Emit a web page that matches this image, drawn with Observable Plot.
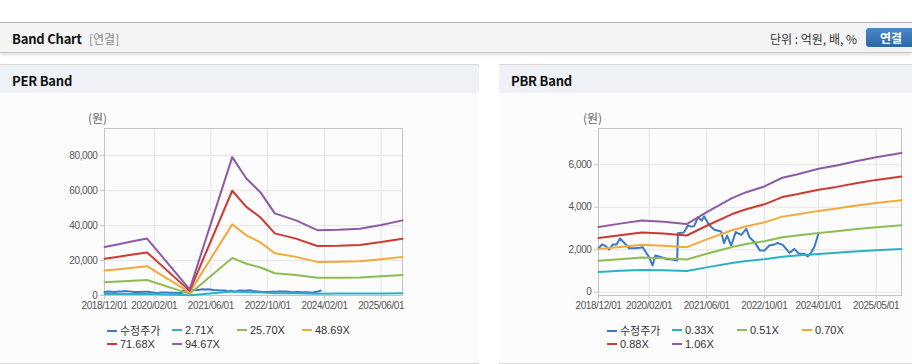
<!DOCTYPE html>
<html><head><meta charset="utf-8">
<script src="https://cdn.jsdelivr.net/npm/d3@7"></script>
<script src="https://cdn.jsdelivr.net/npm/@observablehq/plot@0.6"></script>
<style>
body{margin:0;width:912px;height:364px;overflow:hidden;background:#fff;position:relative;font-family:"Noto Sans CJK KR","Noto Sans",sans-serif;}
.abs{position:absolute;}
.topline{left:0;top:22px;width:912px;height:1px;background:#b4b4b4;}
.header{left:0;top:23px;width:912px;height:29px;background:#f4f4f4;border-bottom:1px solid #c6c6c6;box-shadow:0 2px 3px rgba(0,0,0,0.12);}
.htitle{left:12px;top:29px;font-size:13px;font-weight:bold;color:#111;letter-spacing:-0.2px;}
.hsub{left:89px;top:30px;font-size:12px;color:#8a8a8a;}
.unit{left:770px;top:30px;font-size:12px;color:#333;}
.btn{left:866px;top:28px;width:52px;height:19px;border-radius:3px;background:linear-gradient(#4a88c8,#2d67a6);color:#fff;font-size:12px;font-weight:bold;line-height:19px;text-indent:14px;}
.panel{top:64px;height:298px;background:#fcfcfc;border-top:1px solid #d8d8d8;border-bottom:1px solid #d6d6d6;}
.phead{left:0;top:0;right:0;height:28px;background:#eef2f7;}
.ptitle{left:12px;top:6px;font-size:13px;font-weight:bold;color:#111;letter-spacing:-0.2px;}
.unitlab{font-size:12px;color:#666;top:109px;}
.leg{font-family:"Liberation Sans",Arial,sans-serif;font-size:11px;color:#333;height:14px;line-height:14px;white-space:nowrap;}
.leg .k{display:inline-block;width:10px;height:2px;vertical-align:middle;margin-right:3px;position:relative;top:-1px;}
.leg .kr{font-family:"Noto Sans CJK KR",sans-serif;}
svg text{letter-spacing:-0.4px;}
</style></head>
<body>
<div class="abs topline"></div>
<div class="abs header"></div>
<div class="abs htitle">Band Chart</div>
<div class="abs hsub">[연결]</div>
<div class="abs unit">단위 : 억원, 배, %</div>
<div class="abs btn">연결</div>

<div class="abs panel" style="left:0;width:479px;"><div class="abs phead"></div><div class="abs ptitle">PER Band</div></div>
<div class="abs panel" style="left:499px;width:413px;"><div class="abs phead"></div><div class="abs ptitle">PBR Band</div></div>
<div class="abs unitlab" style="left:88px;">(원)</div>
<div class="abs unitlab" style="left:583px;">(원)</div>
<div id="per" class="abs" style="left:0;top:100px;"></div>
<div id="pbr" class="abs" style="left:499px;top:100px;"></div>
<div id="perleg"></div>
<div id="pbrleg"></div>

<script>
// ---------- data ----------
const priceDates = ["2018-12-01","2019-01-01","2019-02-01","2019-03-01","2019-04-01","2019-05-01","2019-06-01","2019-07-01","2019-08-15","2019-10-01","2019-11-15","2019-12-10","2020-01-05","2020-02-01","2020-03-01","2020-03-25","2020-05-15","2020-07-01","2020-08-01","2020-09-25","2020-10-01","2020-11-20","2020-12-25","2021-01-20","2021-02-15","2021-03-20","2021-04-20","2021-05-10","2021-06-25","2021-08-05","2021-10-01","2021-10-25","2021-11-20","2021-12-25","2022-02-01","2022-03-20","2022-05-01","2022-05-28","2022-07-10","2022-08-25","2022-10-01","2022-11-12","2022-12-25","2023-01-20","2023-03-05","2023-05-01","2023-06-10","2023-07-20","2023-09-05","2023-10-01","2023-11-01","2023-11-28","2024-01-01"];
const priceValues = [2070,2250,2170,2010,2250,2250,2530,2360,2070,2070,2090,2120,1880,1650,1260,1730,1650,1550,1550,1490,2780,2810,3140,3090,3110,3530,3380,3570,3140,2940,2860,2310,2670,2200,2830,2700,2980,2590,2360,1960,1960,2200,2250,2320,2230,1850,2040,1810,1810,1680,1880,2150,2780];

const perDates = ["2018-12-01","2019-04-01","2019-08-01","2019-12-01","2020-12-01","2021-12-01","2022-04-01","2022-08-01","2022-12-01","2023-06-01","2023-12-01","2024-06-01","2024-12-01","2025-06-01","2025-12-01"];
const per271  = [800,840,890,930,110,2270,1920,1690,1350,1230,1070,1080,1090,1160,1230];
const per2570 = [7550,7950,8420,8850,950,21500,18190,16020,12760,11670,10150,10210,10370,10970,11670];
const per4869 = [14300,15070,15940,16770,1800,40730,34460,30340,24170,22110,19240,19340,19650,20780,22110];
const per7168 = [21050,22180,23470,24680,2650,59960,50720,44670,35580,32550,28310,28460,28920,30580,32550];
const per9467 = [27800,29300,31000,32600,3500,79200,67000,59000,47000,43000,37400,37600,38200,40400,43000];

const pbrDates = ["2018-12-01","2019-06-01","2019-12-01","2020-06-01","2020-12-15","2021-06-01","2022-01-01","2022-05-01","2022-10-01","2023-03-01","2023-07-01","2024-01-01","2024-06-01","2024-11-01","2025-05-01","2025-12-01"];
const pbr033 = [955,1005,1050,1030,1000,1170,1380,1465,1550,1675,1725,1805,1855,1915,1980,2040];
const pbr051 = [1480,1550,1630,1600,1540,1810,2130,2270,2400,2590,2670,2790,2870,2960,3060,3150];
const pbr070 = [2030,2130,2230,2190,2120,2490,2920,3110,3290,3560,3660,3830,3940,4070,4200,4330];
const pbr088 = [2550,2680,2810,2760,2670,3130,3680,3910,4140,4480,4610,4830,4960,5120,5290,5450];
const pbr106 = [3070,3230,3380,3320,3210,3770,4430,4710,4980,5390,5545,5810,5970,6160,6360,6560];

const perTicks = ["2018-12-01","2020-02-01","2021-06-01","2022-10-01","2024-02-01","2025-06-01"];
const pbrTicks = ["2018-12-01","2020-02-01","2021-06-01","2022-10-01","2024-01-01","2025-05-01"];
const perYTicks = [0,20000,40000,60000,80000];
const pbrYTicks = [0,2000,4000,6000];

const perNames = ["수정주가","2.71X","25.70X","48.69X","71.68X","94.67X"];
const pbrNames = ["수정주가","0.33X","0.51X","0.70X","0.88X","1.06X"];
const colors = ["#3b78c6","#2bb1c4","#8fbc52","#f2a93b","#cc3a32","#8e5aa3"];

// ---------- build ----------
const P = d3.utcParse("%Y-%m-%d");
const fmt = d3.utcFormat("%Y/%m/%d");
const xDomain = [P("2018-12-01"), P("2025-12-01")];
const mk = (dates, vals) => dates.map((d,i)=>({date:P(d), value:vals[i]}));

function chart(series, ticks, yTicks, yDomain, width, marginLeft, marginRight) {
  const tickDates = ticks.map(P);
  const marks = [
    Plot.gridX(tickDates, {stroke:"#e4e4e4", strokeOpacity:1}),
    Plot.gridY(yTicks, {stroke:"#e4e4e4", strokeOpacity:1}),
    Plot.frame({stroke:"#c4c4c4"}),
    Plot.axisX(tickDates, {tickFormat:fmt, tickSize:4, tickPadding:2, stroke:"#c4c4c4", fill:"#555", fontSize:10, label:null}),
    Plot.axisY(yTicks, {tickFormat:d3.format(","), tickSize:4, tickPadding:3, stroke:"#c4c4c4", fill:"#555", fontSize:10, label:null}),
  ];
  series.forEach((s,i)=>marks.push(Plot.line(s, {x:"date", y:"value", stroke:colors[i], strokeWidth:2, curve:"linear"})));
  return Plot.plot({
    width, height:220, marginLeft, marginRight, marginTop:28, marginBottom:25,
    style:{fontFamily:"'Liberation Sans', Arial, sans-serif", fontSize:"10px", background:"transparent", overflow:"visible"},
    x:{type:"utc", domain:xDomain, axis:null, label:null},
    y:{domain:yDomain, axis:null, label:null},
    marks
  });
}

const price = mk(priceDates, priceValues);
document.getElementById("per").append(chart(
  [price, mk(perDates,per271), mk(perDates,per2570), mk(perDates,per4869), mk(perDates,per7168), mk(perDates,per9467)],
  perTicks, perYTicks, [0,95600], 420, 104, 18));
document.getElementById("pbr").append(chart(
  [price, mk(pbrDates,pbr033), mk(pbrDates,pbr051), mk(pbrDates,pbr070), mk(pbrDates,pbr088), mk(pbrDates,pbr106)],
  pbrTicks, pbrYTicks, [-155,7710], 413, 99, 11));

function legend(id, names, left) {
  const host = document.getElementById(id);
  names.forEach((n,i)=>{
    const d = document.createElement("div");
    d.className = "abs leg";
    d.style.left = (left + (i%4)*65) + "px";
    d.style.top = (323 + Math.floor(i/4)*14) + "px";
    d.innerHTML = `<span class="k" style="background:${colors[i]}"></span><span class="${i===0?'kr':''}">${n}</span>`;
    host.append(d);
  });
}
legend("perleg", perNames, 107);
legend("pbrleg", pbrNames, 607);
</script>
</body></html>
